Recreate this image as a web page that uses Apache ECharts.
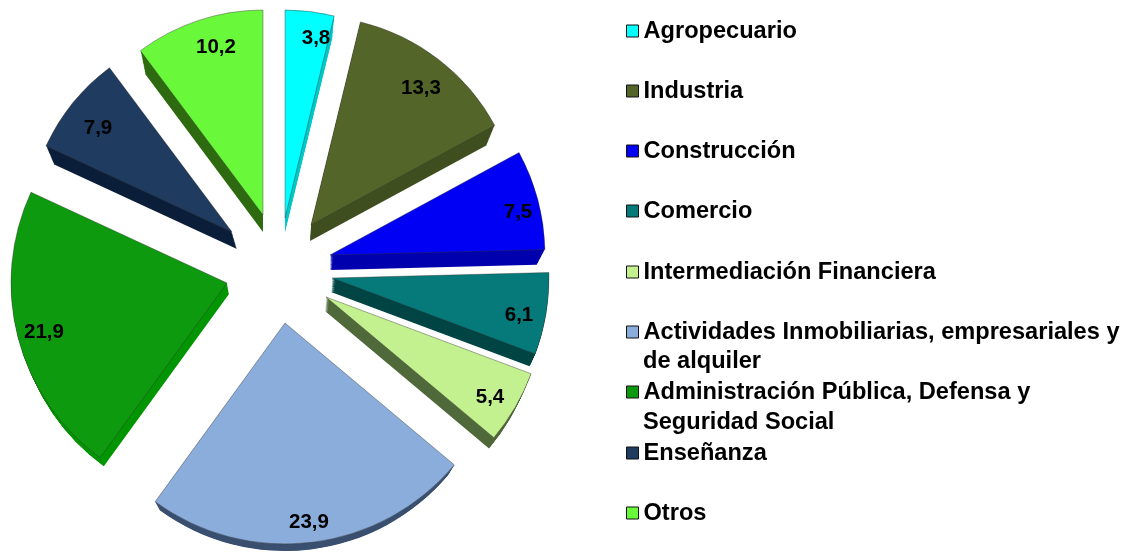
<!DOCTYPE html>
<html>
<head>
<meta charset="utf-8">
<style>html,body{margin:0;padding:0;background:#fff}#c{width:1131px;height:554px}</style>
<script src="https://cdn.jsdelivr.net/npm/echarts@6/dist/echarts.min.js"></script>
</head>
<body>
<div id="c"></div>
<script>
const categories = ['Agropecuario','Industria','Construcción','Comercio','Intermediación Financiera',
  'Actividades Inmobiliarias, empresariales y de alquiler','Administración Pública, Defensa y Seguridad Social','Enseñanza','Otros'];
const values = [3.8,13.3,7.5,6.1,5.4,23.9,21.9,7.9,10.2];
const legendFirstLines = ['Agropecuario','Industria','Construcción','Comercio','Intermediación Financiera',
  'Actividades Inmobiliarias, empresariales y','Administración Pública, Defensa y','Enseñanza','Otros'];
const legendSecondLines = ['','','','','','de alquiler','Seguridad Social','',''];

// styling and layout (separate from the data)
const topColors  = ['#00FFFF','#546529','#0000F5','#067A7A','#C3F18F','#8BADDB','#0E9A0E','#1F3B60','#69F93A'];
const wallColors = ['#00C8C8','#404F20','#0000AE','#004545','#50693A','#3B5070','#049604','#0C1F3A','#2E6A10'];
// exploded position of each slice: [cx, cy, r], wall shift: [dx, dy, dr], label centre: [x, y]
const sliceGeom = [[285,218,208],[311,225,209],[330,255,215],[332,278,217],[326,297,219],[285,323,221],[227,283,216],[232,232,205],[263,215,205]];
const wallGeom  = [[0,14,8],[-1,16,8],[0,15,8],[-1,14,5],[-1,14,5],[0,15,8],[2,11,3],[5,17,3],[0,17,8]];
const labelPos  = [[316,38],[421,88],[518,212],[519,315],[490,397],[309,522],[44,332],[98,128],[216,47]];
const legendY   = [31,91,151,211,272,332,392,453,513];
const secondLineY = [0,0,0,0,0,360,421,0,0];
const FONT = '"Liberation Sans", Arial, sans-serif';
const LAYERS = 16;

const total = values.reduce((a,b)=>a+b,0);
const series = [];
let cum = 0;
values.forEach((v,i)=>{
  const start = 90 - cum/total*360;
  cum += v;
  const [cx,cy,r] = sliceGeom[i];
  const [dx,dy,dr] = wallGeom[i];
  const rest = {value: total - v, name:'', itemStyle:{color:'transparent',borderWidth:0}, label:{show:false}, labelLine:{show:false}};
  for(let k=LAYERS;k>=1;k--){
    const t=k/LAYERS;
    series.push({type:'pie',silent:true,animation:false,z:2,startAngle:start,clockwise:true,
      center:[cx+dx*t,cy+dy*t],radius:[0,r-dr*t],label:{show:false},labelLine:{show:false},
      tooltip:{show:false},
      data:[{value:v,itemStyle:{color:wallColors[i]}},rest]});
  }
  series.push({type:'pie',name:categories[i],silent:true,animation:false,z:3,startAngle:start,clockwise:true,
    center:[cx,cy],radius:[0,r],
    labelLine:{show:false},
    label:{show:true,position:'inside',color:'#000',fontFamily:FONT,fontWeight:'bold',fontSize:20.5,
      formatter:p=>String(p.value).replace('.',',')},
    labelLayout:()=>({x:labelPos[i][0],y:labelPos[i][1],align:'center',verticalAlign:'middle'}),
    data:[{value:v,name:categories[i],itemStyle:{color:topColors[i],borderColor:'rgba(50,50,50,0.6)',borderWidth:0.7}},rest]});
});

const legends = categories.map((c,i)=>({
  orient:'vertical',left:626,top:legendY[i]-17,padding:0,itemWidth:12,itemHeight:12,itemGap:4,
  icon:'rect',selectedMode:false,
  data:[{name:c,itemStyle:{color:topColors[i],borderColor:'#111',borderWidth:1}}],
  formatter:()=>legendFirstLines[i],
  textStyle:{color:'#000',fontFamily:FONT,fontWeight:'bold',fontSize:23.6,lineHeight:28,padding:[6,0,0,0]}
}));

const graphics = legendSecondLines.map((t,i)=>t?({type:'text',left:643,top:secondLineY[i]-13,silent:true,
  style:{text:t,fill:'#000',font:'bold 23.6px '+FONT,lineHeight:28}}):null).filter(Boolean);

const chart = echarts.init(document.getElementById('c'),null,{renderer:'canvas'});
chart.setOption({backgroundColor:'#fff',animation:false,legend:legends,graphic:graphics,series:series});
</script>
</body>
</html>
